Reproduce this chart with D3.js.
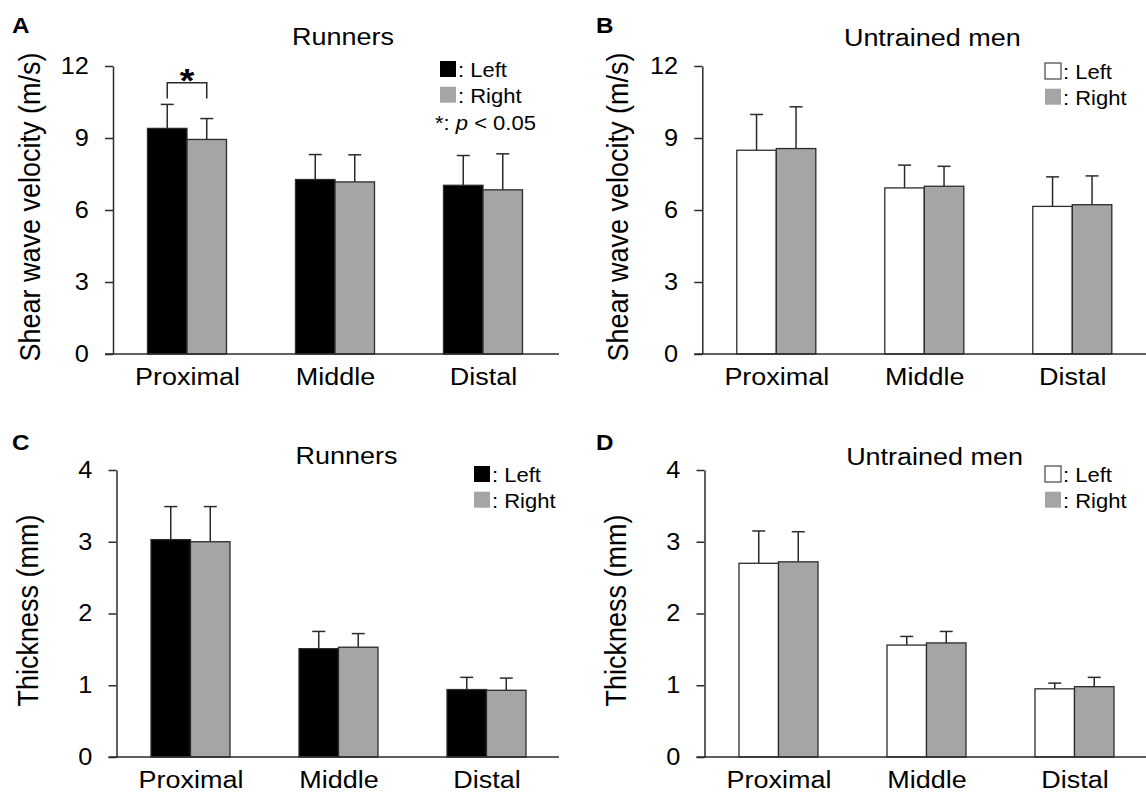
<!DOCTYPE html>
<html>
<head>
<meta charset="utf-8">
<script src="https://cdn.jsdelivr.net/npm/d3@7"></script>
<style>
  html, body { margin: 0; padding: 0; background: #fff; }
  svg { display: block; font-family: "Liberation Sans", Arial, sans-serif; }
</style>
</head>
<body>
<svg id="fig" width="1146" height="792"></svg>
<script>
"use strict";

// Data
var categories = ["Proximal", "Middle", "Distal"];

// shear wave velocity (m/s)
var swvRunLeft = [9.40, 7.27, 7.03];
var swvRunLeftSD = [1.00, 1.04, 1.24];
var swvRunRight = [8.94, 7.17, 6.84];
var swvRunRightSD = [0.87, 1.13, 1.50];
var swvUntLeft = [8.49, 6.92, 6.15];
var swvUntLeftSD = [1.49, 0.95, 1.23];
var swvUntRight = [8.56, 6.99, 6.22];
var swvUntRightSD = [1.74, 0.83, 1.20];

// thickness (mm)
var thkRunLeft = [3.03, 1.51, 0.94];
var thkRunLeftSD = [0.46, 0.24, 0.17];
var thkRunRight = [3.00, 1.53, 0.93];
var thkRunRightSD = [0.49, 0.19, 0.17];
var thkUntLeft = [2.70, 1.56, 0.95];
var thkUntLeftSD = [0.45, 0.12, 0.08];
var thkUntRight = [2.72, 1.59, 0.98];
var thkUntRightSD = [0.42, 0.16, 0.13];

var swvTicks = [0, 3, 6, 9, 12];
var thkTicks = [0, 1, 2, 3, 4];

var GRAY = "#a5a5a5";
var LINE = "#2b2b2b";
var SX = 1.1; // the figure is a bit wider than tall

var svg = d3.select("#fig");

// horizontal text, slightly stretched like the source picture
function htext(g, x, y, str, size, anchor, weight) {
  return g.append("text")
    .attr("transform", "translate(" + x + "," + y + ") scale(" + SX + ",1)")
    .attr("text-anchor", anchor || "start")
    .attr("font-size", size)
    .attr("font-weight", weight || "normal")
    .attr("fill", "#000")
    .text(str);
}

var panels = [
  { tag: "A", tagX: 12, tagY: 33, title: "Runners", titleY: 45,
    ax: 113, top: 66, base: 354, xEnd: 559, max: 12, ticks: swvTicks,
    ylab: "Shear wave velocity (m/s)", ylabX: 40,
    left: swvRunLeft, leftSD: swvRunLeftSD, right: swvRunRight, rightSD: swvRunRightSD,
    leftFill: "#000", legX: 440, legY: 61, sig: true },
  { tag: "B", tagX: 596, tagY: 33, title: "Untrained men", titleY: 46,
    ax: 702.3, top: 66, base: 354, xEnd: 1150, max: 12, ticks: swvTicks,
    ylab: "Shear wave velocity (m/s)", ylabX: 628,
    left: swvUntLeft, leftSD: swvUntLeftSD, right: swvUntRight, rightSD: swvUntRightSD,
    leftFill: "#fff", legX: 1045, legY: 63, sig: false },
  { tag: "C", tagX: 12, tagY: 450, title: "Runners", titleY: 464,
    ax: 116.5, top: 470, base: 757, xEnd: 559, max: 4, ticks: thkTicks,
    ylab: "Thickness (mm)", ylabX: 38,
    left: thkRunLeft, leftSD: thkRunLeftSD, right: thkRunRight, rightSD: thkRunRightSD,
    leftFill: "#000", legX: 474, legY: 466, sig: false },
  { tag: "D", tagX: 596, tagY: 450, title: "Untrained men", titleY: 465,
    ax: 704.5, top: 470, base: 757, xEnd: 1150, max: 4, ticks: thkTicks,
    ylab: "Thickness (mm)", ylabX: 626,
    left: thkUntLeft, leftSD: thkUntLeftSD, right: thkUntRight, rightSD: thkUntRightSD,
    leftFill: "#fff", legX: 1045, legY: 466, sig: false }
];

var barW = 39.5;

panels.forEach(function(p) {
  var g = svg.append("g");

  var y = d3.scaleLinear().domain([0, p.max]).range([p.base, p.top]);
  var x = d3.scalePoint().domain(categories).range([p.ax + 74, p.ax + 370]);

  // panel letter and title
  htext(g, p.tagX, p.tagY, p.tag, 22, "start", "bold");
  htext(g, p.ax + 230, p.titleY, p.title, 24.5, "middle");

  // y label
  g.append("text")
    .attr("transform", "translate(" + p.ylabX + "," + ((p.top + p.base) / 2 - 3) + ") rotate(-90) scale(1," + SX + ")")
    .attr("text-anchor", "middle")
    .attr("font-size", 27)
    .attr("fill", "#000")
    .text(p.ylab);

  // bars
  var rows = categories.map(function(c, i) {
    return { cat: c, l: p.left[i], lsd: p.leftSD[i], r: p.right[i], rsd: p.rightSD[i] };
  });

  var grp = g.selectAll(".grp").data(rows).enter().append("g");

  // error bars first so bars cover the bottom of the whisker
  [["l", "lsd", -barW / 2], ["r", "rsd", barW / 2]].forEach(function(k) {
    grp.append("line")
      .attr("x1", d => x(d.cat) + k[2]).attr("x2", d => x(d.cat) + k[2])
      .attr("y1", d => y(d[k[0]])).attr("y2", d => y(d[k[0]] + d[k[1]]))
      .attr("stroke", LINE).attr("stroke-width", 1.5);
    grp.append("line")
      .attr("x1", d => x(d.cat) + k[2] - 6.5).attr("x2", d => x(d.cat) + k[2] + 6.5)
      .attr("y1", d => y(d[k[0]] + d[k[1]])).attr("y2", d => y(d[k[0]] + d[k[1]]))
      .attr("stroke", LINE).attr("stroke-width", 1.5);
  });

  grp.append("rect")
    .attr("x", d => x(d.cat) - barW).attr("width", barW)
    .attr("y", d => y(d.l)).attr("height", d => y(0) - y(d.l))
    .attr("fill", p.leftFill).attr("stroke", LINE).attr("stroke-width", 1.3);
  grp.append("rect")
    .attr("x", d => x(d.cat)).attr("width", barW)
    .attr("y", d => y(d.r)).attr("height", d => y(0) - y(d.r))
    .attr("fill", GRAY).attr("stroke", LINE).attr("stroke-width", 1.3);

  // y axis
  var yAxis = g.append("g")
    .attr("transform", "translate(" + p.ax + ",0)")
    .call(d3.axisLeft(y).tickValues(p.ticks).tickFormat(d3.format("d"))
      .tickSize(8).tickSizeOuter(0).tickPadding(14));
  yAxis.select(".domain").attr("stroke", LINE).attr("stroke-width", 1.5);
  yAxis.selectAll(".tick line").attr("stroke", LINE).attr("stroke-width", 1.5);
  yAxis.selectAll(".tick text")
    .attr("transform", "scale(" + SX + ",1)")
    .attr("font-size", 23).attr("fill", "#000")
    .attr("font-family", "Liberation Sans, Arial, sans-serif");

  // x axis
  g.append("line")
    .attr("x1", p.ax - 8).attr("x2", p.xEnd)
    .attr("y1", y(0)).attr("y2", y(0))
    .attr("stroke", LINE).attr("stroke-width", 1.5);
  var xAxis = g.append("g")
    .attr("transform", "translate(0," + y(0) + ")")
    .call(d3.axisBottom(x).tickSize(0).tickPadding(0));
  xAxis.select(".domain").remove();
  xAxis.selectAll(".tick text")
    .attr("y", 31).attr("dy", null)
    .attr("transform", "scale(" + SX + ",1)")
    .attr("font-size", 24.5).attr("fill", "#000")
    .attr("font-family", "Liberation Sans, Arial, sans-serif");

  // legend
  g.append("rect").attr("x", p.legX).attr("y", p.legY).attr("width", 16).attr("height", 16)
    .attr("fill", p.leftFill)
    .attr("stroke", p.leftFill === "#fff" ? "#444" : "none").attr("stroke-width", 1.2);
  g.append("rect").attr("x", p.legX).attr("y", p.legY + 25.7).attr("width", 16).attr("height", 16)
    .attr("fill", GRAY);
  htext(g, p.legX + 18, p.legY + 16, ": Left", 20);
  htext(g, p.legX + 18, p.legY + 41.7, ": Right", 20);

  if (p.sig) {
    var t = htext(g, p.legX - 5, p.legY + 69, "", 20);
    t.append("tspan").text("*: ");
    t.append("tspan").attr("font-style", "italic").text("p");
    t.append("tspan").text(" < 0.05");

    // bracket between left and right bar of Proximal
    var c0 = x(categories[0]) - barW / 2, c1 = x(categories[0]) + barW / 2;
    var top = y(11.3), foot = y(10.65);
    g.append("path")
      .attr("d", "M" + c0 + "," + foot + "V" + top + "H" + c1 + "V" + foot)
      .attr("fill", "none").attr("stroke", LINE).attr("stroke-width", 1.5);
    htext(g, (c0 + c1) / 2, top + 9, "*", 34, "middle", "bold");
  }
});
</script>
</body>
</html>
